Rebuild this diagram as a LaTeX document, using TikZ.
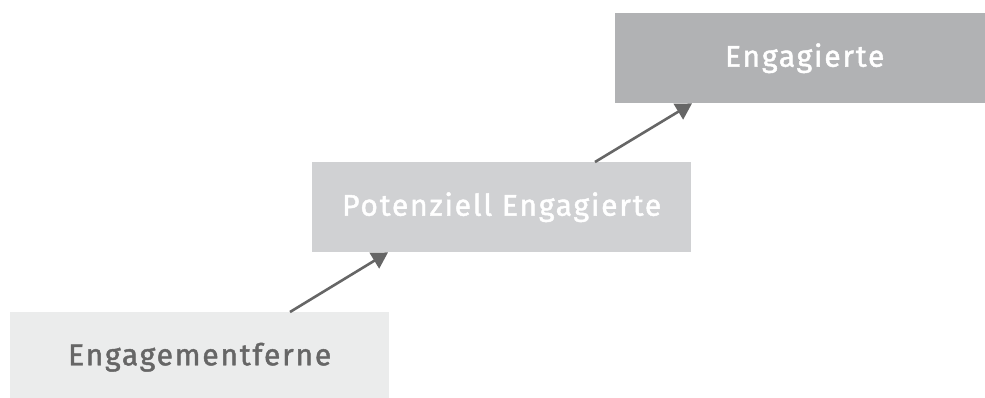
\documentclass[tikz,border=0pt]{standalone}
\usepackage{fontspec}
\setmainfont{Fira Sans}
\usetikzlibrary{arrows.meta,calc}
\definecolor{boxA}{HTML}{EBECEC}
\definecolor{boxB}{HTML}{D0D1D3}
\definecolor{boxC}{HTML}{B1B2B4}
\definecolor{ink}{HTML}{666666}
\tikzset{
  stage/.style={rectangle, inner sep=0pt, anchor=north west, minimum width=379pt, minimum height=90pt,
    font=\fontsize{30}{34}\selectfont\addfontfeature{LetterSpace=6,FakeBold=1.5}},
  up/.style={draw=ink, line width=2.6pt, -{Triangle[length=16pt,width=18pt]}, shorten >=0pt}
}
\begin{document}
\begin{tikzpicture}[x=1pt,y=-1pt]
\useasboundingbox (0,0) rectangle (985,397);
\node[stage, fill=boxA, text=ink] (b1) at (10,312) {Engagementferne};
\node[stage, fill=boxB, text=white] (b2) at (312,162) {Potenziell Engagierte};
\node[stage, fill=boxC, text=white] (b3) at (615,13) {Engagierte};
\draw[up] ($(b1.north west)+(280,0)$) -- ($(b2.south west)+(76,0)$);
\draw[up] ($(b2.north west)+(283,0)$) -- ($(b3.south west)+(77,0)$);
\end{tikzpicture}
\end{document}
